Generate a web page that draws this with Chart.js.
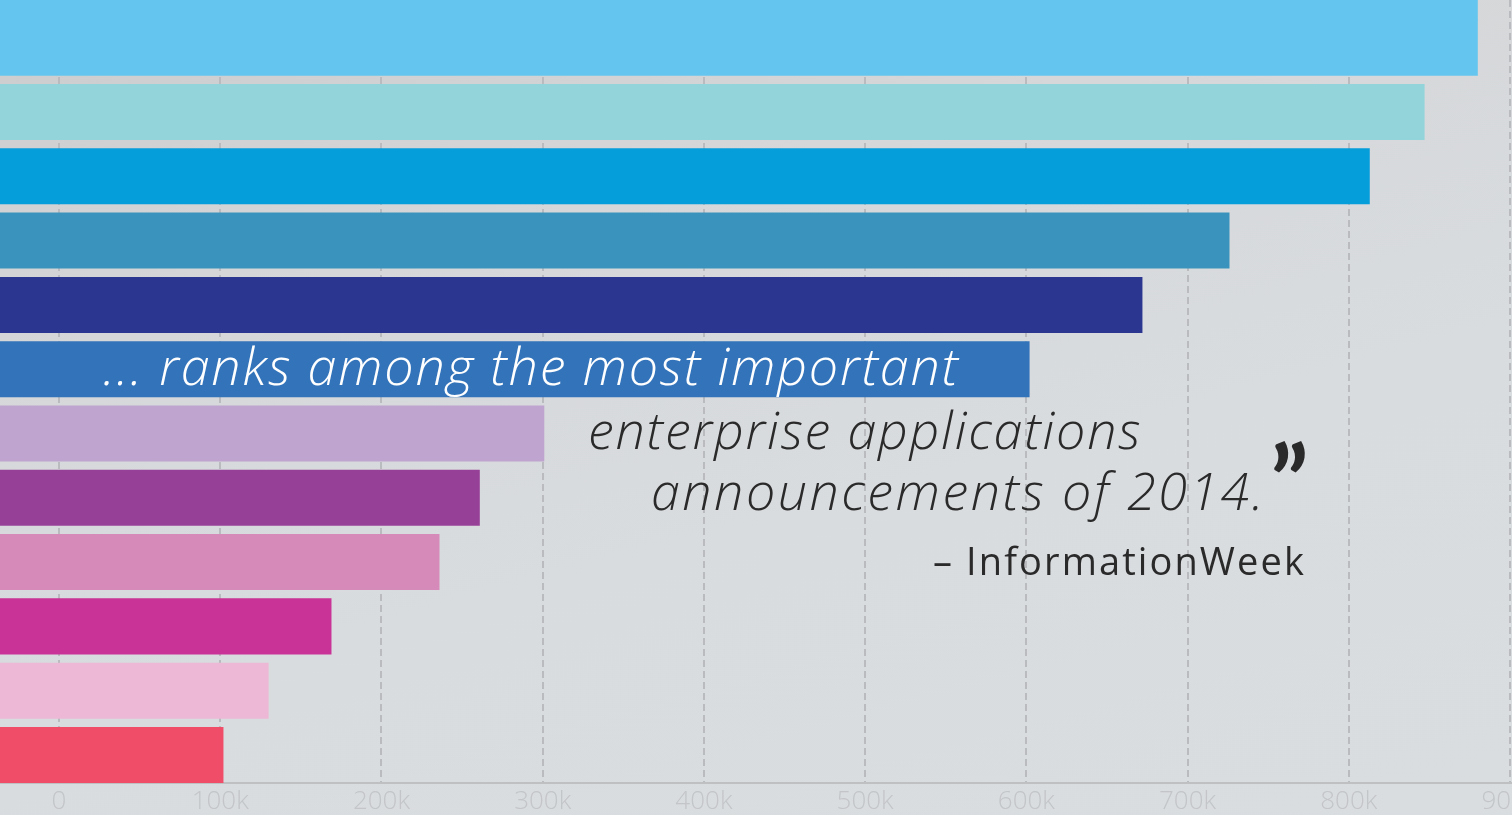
<!DOCTYPE html>
<html>
<head>
<meta charset="utf-8">
<title>Bar chart</title>
<script src="https://cdn.jsdelivr.net/npm/chart.js@4.4.1/dist/chart.umd.min.js"></script>
<style>
    html, body { margin: 0; padding: 0; width: 1512px; height: 815px; overflow: hidden; }
    body {
        position: relative;
        background: linear-gradient(165deg, #cbcbcc 0%, #d5d7d9 30%, #d9dcdf 60%, #dadde0 100%);
        font-family: "Open Sans", Lato, sans-serif;
    }
    #wrap { position: absolute; left: 0; top: 0; width: 1600px; height: 823px; }
    .q { position: absolute; white-space: nowrap; line-height: 1; font-style: italic; font-weight: 300; color: #2a2a2a; }
</style>
</head>
<body>
<div id="wrap"><canvas id="barChart"></canvas></div>

<div class="q" style="left:103px; top:339px; font-size:52px; letter-spacing:1.8px; color:#ffffff;">... ranks among the most important</div>
<div class="q" style="left:588px; top:403px; font-size:52px; letter-spacing:1.8px;">enterprise applications</div>
<div class="q" style="left:651px; top:464px; font-size:52px; letter-spacing:2.5px;">announcements of 2014.</div>
<div class="q" style="left:1270px; top:429px; font-size:100px; font-family:Lato, sans-serif; font-style:normal; font-weight:700;">”</div>
<div class="q" style="left:933px; top:541px; font-size:38px; letter-spacing:2.1px; font-style:normal; font-weight:400;">– InformationWeek</div>

<script>
// -----------------------
// 横棒グラフのデータ
// -----------------------
const categories = ["Bar 1", "Bar 2", "Bar 3", "Bar 4", "Bar 5", "Bar 6",
                    "Bar 7", "Bar 8", "Bar 9", "Bar 10", "Bar 11", "Bar 12"];
const values = [880000, 847000, 813000, 726000, 672000, 602000,
                301000, 261000, 236000, 169000, 130000, 102000];
const barColors = ["#64c6ee", "#93d4db", "#069ddb", "#3a93bc", "#2b3690", "#3373ba",
                   "#bea4ce", "#974097", "#d68aba", "#c93296", "#ecb8d6", "#f04d69"];
const xTicks = [0, 100000, 200000, 300000, 400000, 500000, 600000, 700000, 800000, 900000];
// 軸の表示範囲（画像は上と左右が切れている）
const xMin = -36600;
const xMax = 955800;
const yMin = 0.258;
const yMax = 12.436;

(function () {
    const ctx = document.getElementById("barChart");
    if (!ctx) return;

    // 棒の位置は 1〜12、0 は一番上の棒が上端まで続く部分
    const positions = categories.map((c, i) => i + 1);
    const mainData = categories.map((c, i) => ({ x: values[i], y: positions[i], name: c }));
    const topData = [{ x: values[0], y: 0, name: categories[0] }];

    new Chart(ctx.getContext("2d"), {
        type: "bar",
        data: {
            datasets: [
                {
                    label: "top",
                    data: topData,
                    backgroundColor: barColors[0],
                    base: xMin,
                    grouped: false,
                    barPercentage: 1.15,
                    categoryPercentage: 1
                },
                {
                    label: "value",
                    data: mainData,
                    backgroundColor: barColors,
                    base: xMin,
                    barPercentage: 0.871,
                    categoryPercentage: 1
                }
            ]
        },
        options: {
            indexAxis: "y",
            responsive: true,
            maintainAspectRatio: false,
            animation: false,
            layout: { padding: 0 },
            plugins: {
                legend: { display: false },
                tooltip: { enabled: false }
            },
            scales: {
                x: {
                    type: "linear",
                    min: xMin,
                    max: xMax,
                    afterBuildTicks: s => { s.ticks = xTicks.map(v => ({ value: v })); },
                    afterFit: s => { s.height = 40; },
                    grid: { color: "#b9bbbe", lineWidth: 2, drawTicks: false },
                    border: { display: true, color: "#bfc0c2", width: 2, dash: [7, 4] },
                    ticks: {
                        color: "#c3c5c8",
                        padding: 3,
                        maxRotation: 0,
                        autoSkip: false,
                        font: { family: "Open Sans", size: 26, weight: "300" },
                        callback: v => v === 0 ? "0" : (v / 1000) + "k"
                    }
                },
                y: {
                    type: "linear",
                    min: yMin,
                    max: yMax,
                    reverse: true,
                    offset: false,
                    display: false,
                    afterBuildTicks: s => { s.ticks = positions.map(v => ({ value: v })); }
                }
            }
        }
    });
})();
</script>
</body>
</html>
